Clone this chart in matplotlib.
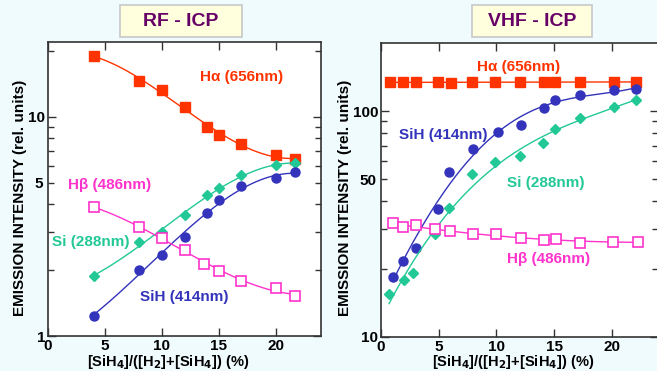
import numpy as np
import matplotlib.pyplot as plt
from matplotlib.patches import Rectangle

plt.rcParams['font.family'] = ['Liberation Sans', 'DejaVu Sans']
plt.rcParams['font.weight'] = 'bold'

# RF - ICP data
rf_x = [4, 8, 10, 12, 14, 15, 17, 20, 21.7]
rf_ha = [19.0, 14.6, 13.3, 11.1, 9.0, 8.3, 7.5, 6.7, 6.4]
rf_si = [1.87, 2.70, 2.97, 3.55, 4.39, 4.72, 5.42, 6.02, 6.15]
rf_sih = [1.235, 2.01, 2.35, 2.82, 3.63, 4.16, 4.82, 5.25, 5.59]
rf_hb_x = [4, 8, 10, 12, 13.7, 15, 17, 20, 21.7]
rf_hb = [3.87, 3.16, 2.79, 2.48, 2.14, 1.99, 1.79, 1.66, 1.52]

# VHF - ICP data
vhf_ha_x = [0.8, 1.9, 3.0, 4.9, 6.1, 7.9, 9.9, 12.0, 14.1, 15.1, 17.2, 20.2, 22.1]
vhf_ha = [134, 134, 134, 134, 133, 134, 134, 135, 134, 135, 135, 134, 134]
vhf_sih_x = [1.0, 1.9, 3.0, 4.9, 5.9, 8.0, 10.1, 12.1, 14.1, 15.1, 17.2, 20.2, 22.1]
vhf_sih = [18.5, 21.8, 24.8, 36.8, 53.5, 67.9, 81, 86.4, 102.8, 112, 117.7, 124, 124.8]
vhf_si_x = [0.7, 2.0, 2.8, 4.7, 5.9, 7.9, 9.9, 12.0, 14.0, 15.1, 17.2, 20.2, 22.1]
vhf_si = [15.5, 17.9, 19.1, 28.5, 37.3, 52.6, 59.3, 63.2, 72, 83.2, 92.9, 104.5, 112]
vhf_hb_x = [1.0, 1.9, 3.0, 4.7, 6.0, 8.0, 10.0, 12.1, 14.1, 15.2, 17.2, 20.1, 22.3]
vhf_hb = [31.8, 30.8, 31.3, 30.0, 29.3, 28.5, 28.5, 27.5, 26.9, 27.1, 26.0, 26.4, 26.4]

RED = '#FF3300'
BLUE = '#3333BB'
GREEN = '#22C896'
PINK = '#FF33CC'
BG = '#F0FBFE'


# pixel-based placement helpers (origin top-left like the reference image)
def fx(px):
    return px / 657


def fy(py):
    return 1 - py / 371


def plot_series(ax, x, y, color, marker, deg, ms=6.5, filled=True):
    x = np.asarray(x, float)
    y = np.asarray(y, float)
    coef = np.polyfit(x, np.log10(y), deg)
    xs = np.linspace(x.min(), x.max(), 200)
    ax.plot(xs, 10 ** np.polyval(coef, xs), color=color, lw=1.0)
    if filled:
        ax.plot(x, y, marker, color=color, ms=ms, ls='none')
    else:
        ax.plot(x, y, marker, mec=color, mfc='white', mew=1.2, ms=ms, ls='none')


def style_axes(ax, ylo, yhi, minors, labeled):
    ax.set_facecolor('white')
    ax.set_yscale('log')
    ax.set_xlim(0, 24)
    ax.set_ylim(ylo, yhi)
    ax.set_xticks([0, 5, 10, 15, 20])
    ax.set_yticks([ylo, ylo * 10], labels=[str(ylo), str(ylo * 10)])
    ax.set_yticks(minors, labels=[labeled if m == float(labeled) else '' for m in minors], minor=True)
    ax.tick_params(which='both', direction='in', top=True, right=True, labelsize=11, width=1.0, color='#333333')
    ax.tick_params(which='major', length=6)
    ax.tick_params(which='minor', length=4)
    ax.tick_params(axis='x', pad=2)
    ax.tick_params(axis='y', pad=2)
    for s in ax.spines.values():
        s.set_color('#333333')
        s.set_linewidth(1.2)


def label(px, py, text, color):
    fig.text(fx(px), fy(py), text, color=color, fontsize=11, va='center')


fig = plt.figure(figsize=(6.57, 3.71), dpi=100, facecolor=BG)

# left panel: RF - ICP
ax1 = fig.add_axes([fx(48), fy(336), 273 / 657, 294 / 371])
plot_series(ax1, rf_x, rf_ha, RED, 's', 3)
plot_series(ax1, rf_x, rf_si, GREEN, 'D', 3, ms=5.5)
plot_series(ax1, rf_x, rf_sih, BLUE, 'o', 3)
plot_series(ax1, rf_hb_x, rf_hb, PINK, 's', 3, filled=False)
style_axes(ax1, 1, 22, [2, 3, 4, 5, 6, 7, 8, 9, 20], '5')

label(200, 77, 'Hα (656nm)', RED)
label(68, 185, 'Hβ (486nm)', PINK)
label(52, 242, 'Si (288nm)', GREEN)
label(140, 297, 'SiH (414nm)', BLUE)

# right panel: VHF - ICP
ax2 = fig.add_axes([fx(381), fy(337), 277 / 657, 294 / 371])
plot_series(ax2, vhf_ha_x, vhf_ha, RED, 's', 1)
plot_series(ax2, vhf_sih_x, vhf_sih, BLUE, 'o', 4)
plot_series(ax2, vhf_si_x, vhf_si, GREEN, 'D', 3, ms=5.5)
plot_series(ax2, vhf_hb_x, vhf_hb, PINK, 's', 2, filled=False)
style_axes(ax2, 10, 200, [20, 30, 40, 50, 60, 70, 80, 90], '50')

label(477, 67, 'Hα (656nm)', RED)
label(399, 135, 'SiH (414nm)', BLUE)
label(507, 183, 'Si (288nm)', GREEN)
label(507, 259, 'Hβ (486nm)', PINK)

ylab = 'EMISSION INTENSITY (rel. units)'
xlab = r'[SiH$_\mathbf{4}$]/([H$_\mathbf{2}$]+[SiH$_\mathbf{4}$]) (%)'
fig.text(fx(20), fy(198), ylab, rotation=90, ha='center', va='center', fontsize=11)
fig.text(fx(345), fy(198), ylab, rotation=90, ha='center', va='center', fontsize=11)
fig.text(fx(168), fy(353), xlab, ha='center', va='top', fontsize=10.5)
fig.text(fx(513), fy(353), xlab, ha='center', va='top', fontsize=10.5)

# title boxes
for x0, x1, title in [(120, 242, 'RF - ICP'), (472, 592, 'VHF - ICP')]:
    fig.patches.append(Rectangle((fx(x0), fy(37)), fx(x1 - x0), 32 / 371, transform=fig.transFigure,
                                 facecolor='#FFFFDD', edgecolor='#C8C8C8', lw=1.2))
    fig.text(fx((x0 + x1) / 2), fy(21), title, ha='center', va='center', fontsize=14, color='#660066')

fig.savefig('out.png', dpi=100, facecolor=BG)
